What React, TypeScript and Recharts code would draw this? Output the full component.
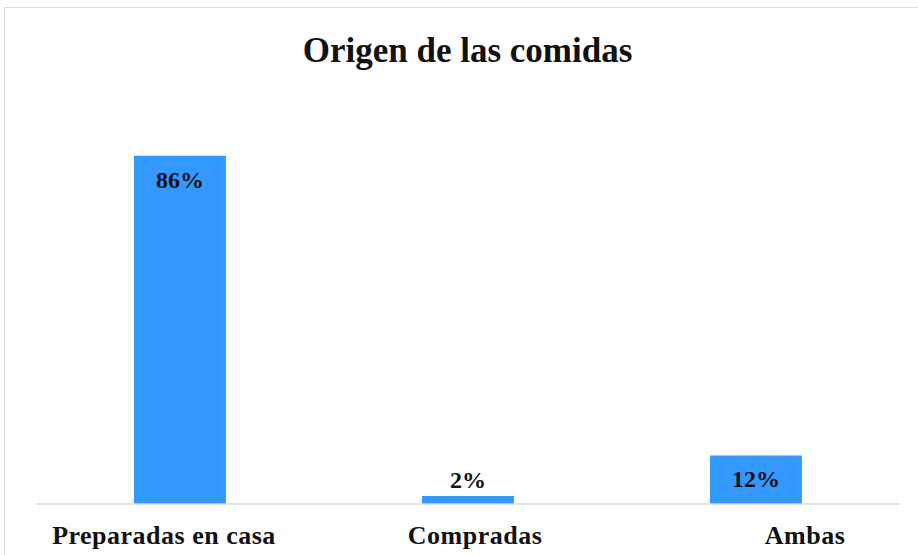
import React from "react";
import { BarChart, Bar, XAxis, YAxis, LabelList } from "recharts";

const categories = ["Preparadas en casa", "Compradas", "Ambas"];
const values = [86, 2, 12];
const valueLabels = ["86%", "2%", "12%"];
const title = "Origen de las comidas";

const data = categories.map((c, i) => ({ name: c, value: values[i], label: valueLabels[i] }));

const tickShift = [-16, 7, 49];
const FONT = "'Liberation Serif', 'Times New Roman', serif";

const Tick = (props: any) => {
  const { x, y, payload, index } = props;
  return (
    <text
      x={x + (tickShift[index] ?? 0)}
      y={y + 23}
      textAnchor="middle"
      dominantBaseline="central"
      fontFamily={FONT}
      fontWeight="bold"
      fontSize={26}
      letterSpacing={0.5}
      fill="#111"
    >
      {payload.value}
    </text>
  );
};

const ValueLabel = (props: any) => {
  const { x, y, width, height, index } = props;
  const inside = height > 30;
  const cy = inside ? y + 24 : y - 16;
  return (
    <text
      x={x + width / 2}
      y={cy}
      textAnchor="middle"
      dominantBaseline="central"
      fontFamily={FONT}
      fontWeight="bold"
      fontSize={24}
      fill="#111"
    >
      {valueLabels[index]}
    </text>
  );
};

export default function App() {
  return (
    <div style={{ position: "absolute", left: 0, top: 0, width: 918, height: 555, background: "#fff", overflow: "hidden" }}>
      <div
        style={{
          position: "absolute",
          left: 4,
          top: 7,
          width: 930,
          height: 560,
          border: "1.5px solid #dcdcdc",
          boxSizing: "border-box",
        }}
      />
      <svg width={918} height={90} style={{ position: "absolute", left: 0, top: 0 }}>
        <text
          x={467.5}
          y={50}
          textAnchor="middle"
          dominantBaseline="central"
          fontFamily={FONT}
          fontWeight="bold"
          fontSize={35}
          fill="#111"
        >
          {title}
        </text>
      </svg>
      <div style={{ position: "absolute", left: 0, top: 0 }}>
        <BarChart
          width={918}
          height={555}
          data={data}
          margin={{ top: 99, right: 18, left: 36, bottom: 11 }}
          barCategoryGap="34%"
        >
          <XAxis
            dataKey="name"
            height={40}
            tickLine={false}
            axisLine={{ stroke: "#d9d9d9", strokeWidth: 1.5 }}
            tick={<Tick />}
            interval={0}
          />
          <YAxis hide domain={[0, 100]} />
          <Bar dataKey="value" fill="#3399FF" isAnimationActive={false}>
            <LabelList dataKey="label" content={<ValueLabel />} />
          </Bar>
        </BarChart>
      </div>
    </div>
  );
}
